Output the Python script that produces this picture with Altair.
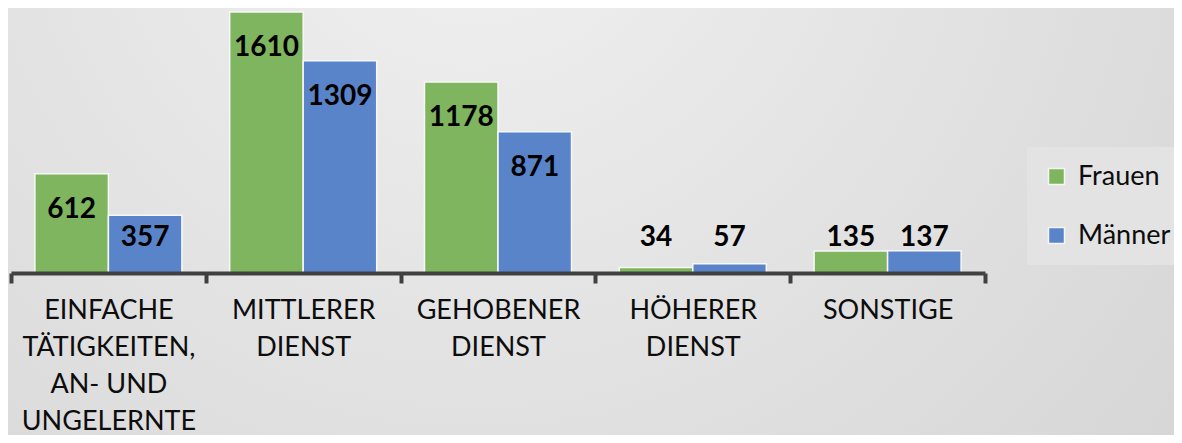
import altair as alt
import pandas as pd

categories = [
    "EINFACHE\nTÄTIGKEITEN,\nAN- UND\nUNGELERNTE",
    "MITTLERER\nDIENST",
    "GEHOBENER\nDIENST",
    "HÖHERER\nDIENST",
    "SONSTIGE",
]
series = ["Frauen", "Männer"]
frauen = [612, 1610, 1178, 34, 135]
maenner = [357, 1309, 871, 57, 137]

rows = []
for c, f, m in zip(categories, frauen, maenner):
    rows.append({"cat": c, "series": "Frauen", "value": f})
    rows.append({"cat": c, "series": "Männer", "value": m})
df = pd.DataFrame(rows)

W, H = 974, 261
PAD = {"left": 3, "top": 4, "right": 189, "bottom": 162}
FONT = "Lato"

bg = alt.Chart(pd.DataFrame({"a": [0]})).mark_rect(
    fill={
        "gradient": "radial",
        "x1": 0.4, "y1": 0.2, "r1": 0,
        "x2": 0.4, "y2": 0.2, "r2": 0.9,
        "stops": [
            {"offset": 0, "color": "#F1F1F1"},
            {"offset": 1, "color": "#D2D2D2"},
        ],
    },
    stroke=None,
).encode(
    x=alt.value(-PAD["left"]),
    x2=alt.value(W + PAD["right"]),
    y=alt.value(-PAD["top"]),
    y2=alt.value(H + PAD["bottom"]),
)

x_enc = alt.X(
    "cat:N",
    sort=categories,
    scale=alt.Scale(paddingInner=0, paddingOuter=0),
    axis=alt.Axis(
        title=None,
        labelAngle=0,
        labelExpr="split(datum.label, '\\n')",
        labelFont=FONT,
        labelFontSize=27,
        labelColor="#0D0D0D",
        labelLineHeight=37,
        labelPadding=14,
        labelBaseline="top",
        domainColor="#404040",
        domainWidth=4,
        tickColor="#404040",
        tickWidth=4,
        tickSize=10,
        tickBand="extent",
        grid=False,
        zindex=1,
    ),
)
xo_enc = alt.XOffset(
    "series:N",
    sort=series,
    scale=alt.Scale(paddingOuter=0.325, paddingInner=0),
)
y_scale = alt.Scale(domain=[0, 1610], nice=False, zero=True)

bars = alt.Chart(df).mark_bar(stroke="#F7F7F7", strokeWidth=1.5).encode(
    x=x_enc,
    xOffset=xo_enc,
    y=alt.Y("value:Q", scale=y_scale, axis=None),
    color=alt.Color(
        "series:N",
        sort=series,
        scale=alt.Scale(domain=series, range=["#7FB55E", "#5A84CA"]),
        legend=alt.Legend(
            title=None,
            orient="none",
            legendX=1016,
            legendY=135,
            fillColor="#E3E3E3",
            padding=16,
            symbolType="square",
            symbolSize=256,
            symbolStrokeColor="#F5F5F5",
            symbolStrokeWidth=1.5,
            symbolOpacity=1,
            labelFont=FONT,
            labelFontSize=27,
            labelColor="#0D0D0D",
            labelOffset=8,
            rowPadding=31,
            zindex=1,
        ),
    ),
)

labels = alt.Chart(df).transform_calculate(
    labelpos="max(datum.value - 222, 216)"
).mark_text(
    font=FONT, fontSize=28, fontWeight="bold", color="#000000", baseline="middle"
).encode(
    x=alt.X("cat:N", sort=categories),
    xOffset=alt.XOffset("series:N", sort=series),
    y=alt.Y("labelpos:Q", scale=y_scale),
    text=alt.Text("value:Q"),
)

chart = alt.layer(bg, bars, labels).properties(
    width=W,
    height=H,
    padding=PAD,
    autosize=alt.AutoSizeParams(type="none"),
).configure_view(stroke=None).configure(background="#D8D8D8")

chart.save("out.html", embed_options={"renderer": "svg", "actions": False})
